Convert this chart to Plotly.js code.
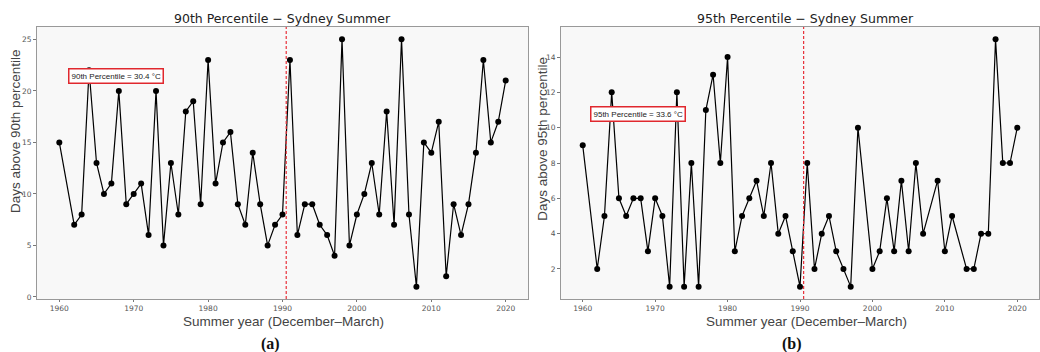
<!DOCTYPE html>
<html>
<head>
<meta charset="utf-8">
<script src="https://cdn.plot.ly/plotly-3.0.1.min.js"></script>
<style>html,body{margin:0;padding:0;background:#fff;}#chart{width:1040px;height:352px;}</style>
</head>
<body>
<div id="chart"></div>
<script>
// Panel (a): days above 90th percentile
const yearsA = [1960,1962,1963,1964,1965,1966,1967,1968,1969,1970,1971,1972,1973,1974,1975,1976,1977,1978,1979,1980,1981,1982,1983,1984,1985,1986,1987,1988,1989,1990,1991,1992,1993,1994,1995,1996,1997,1998,1999,2000,2001,2002,2003,2004,2005,2006,2007,2008,2009,2010,2011,2012,2013,2014,2015,2016,2017,2018,2019,2020];
const daysA = [15,7,8,22,13,10,11,20,9,10,11,6,20,5,13,8,18,19,9,23,11,15,16,9,7,14,9,5,7,8,23,6,9,9,7,6,4,25,5,8,10,13,8,18,7,25,8,1,15,14,17,2,9,6,9,14,23,15,17,21];
// Panel (b): days above 95th percentile
const yearsB = [1960,1962,1963,1964,1965,1966,1967,1968,1969,1970,1971,1972,1973,1974,1975,1976,1977,1978,1979,1980,1981,1982,1983,1984,1985,1986,1987,1988,1989,1990,1991,1992,1993,1994,1995,1996,1997,1998,2000,2001,2002,2003,2004,2005,2006,2007,2009,2010,2011,2013,2014,2015,2016,2017,2018,2019,2020];
const daysB = [9,2,5,12,6,5,6,6,3,6,5,1,12,1,8,1,11,13,8,14,3,5,6,7,5,8,4,5,3,1,8,2,4,5,3,2,1,10,2,3,6,3,7,3,8,4,7,3,5,2,2,4,4,15,8,8,10];

const titles = ["90th Percentile \u2212 Sydney Summer", "95th Percentile \u2212 Sydney Summer"];
const yTitles = ["Days above 90th percentile", "Days above 95th percentile"];
const xTitle = "Summer year (December\u2013March)";
const boxTexts = ["90th Percentile = 30.4 \u00b0C", "95th Percentile = 33.6 \u00b0C"];
const boxY = [21.45, 10.76];
const boxX = 1967.6;
const breakYear = 1990.5;
const panelLabels = ["(a)", "(b)"];
const xTicks = [1960,1970,1980,1990,2000,2010,2020];
const yTicksA = [0,5,10,15,20,25];
const yTicksB = [2,4,6,8,10,12,14];

const W = 1040, H = 352;
const px = v => v / W, py = v => (H - v) / H;

const lineStyle = {color: '#000', width: 1.2};
const markerStyle = {color: '#000', size: 6};

const traces = [
  {x: yearsA, y: daysA, xaxis: 'x', yaxis: 'y', mode: 'lines+markers', line: lineStyle, marker: markerStyle, hoverinfo: 'x+y'},
  {x: yearsB, y: daysB, xaxis: 'x2', yaxis: 'y2', mode: 'lines+markers', line: lineStyle, marker: markerStyle, hoverinfo: 'x+y'}
];

const tickFont = {family: 'DejaVu Sans', size: 7.5, color: '#555'};
function xAxis(domain, anchor) {
  return {domain: domain, anchor: anchor, range: [1957, 2023], tickvals: xTicks, ticks: 'outside', ticklen: 2, tickcolor: '#777',
    tickfont: tickFont, showgrid: false, zeroline: false, showline: true, mirror: true, linecolor: '#999', linewidth: 1, automargin: false};
}
function yAxis(range, tickvals, anchor) {
  return {domain: [py(299), py(27)], anchor: anchor, range: range, tickvals: tickvals, ticks: 'outside', ticklen: 3, tickcolor: '#777',
    tickfont: tickFont, showgrid: false, zeroline: false, showline: true, mirror: true, linecolor: '#999', linewidth: 1, automargin: false};
}

const titleFont = {family: 'DejaVu Sans', size: 12.5, color: '#222'};
const axTitleFont = {family: 'Liberation Sans', size: 13.5, color: '#444'};
const annotations = [];
const centersX = [282, 805];
const yTitlePos = [[15, 131], [541.7, 139]];
const labelX = [270, 792];
for (let i = 0; i < 2; i++) {
  annotations.push({xref: 'paper', yref: 'paper', x: px(centersX[i]), y: py(18), text: titles[i], showarrow: false, font: titleFont, xanchor: 'center', yanchor: 'middle'});
  annotations.push({xref: 'paper', yref: 'paper', x: px(centersX[i] + 1), y: py(312), text: xTitle, showarrow: false, font: axTitleFont, xanchor: 'center', yanchor: 'top'});
  annotations.push({xref: 'paper', yref: 'paper', x: px(yTitlePos[i][0]), y: py(yTitlePos[i][1]), text: yTitles[i], textangle: -90, showarrow: false, font: axTitleFont, xanchor: 'center', yanchor: 'middle'});
  annotations.push({xref: 'paper', yref: 'paper', x: px(labelX[i]), y: py(344), text: panelLabels[i], showarrow: false,
    font: {family: 'Liberation Serif', size: 16, color: '#111', weight: 'bold'}, xanchor: 'center', yanchor: 'middle'});
  annotations.push({xref: i === 0 ? 'x' : 'x2', yref: i === 0 ? 'y' : 'y2', x: boxX, y: boxY[i], text: boxTexts[i], showarrow: false,
    font: {family: 'Liberation Sans', size: 8, color: '#222'}, bgcolor: '#fff', bordercolor: '#e0282e', borderwidth: 1.5, borderpad: 2,
    xanchor: 'center', yanchor: 'middle'});
}

const shapes = [
  {type: 'line', xref: 'x', yref: 'y domain', x0: breakYear, x1: breakYear, y0: 0, y1: 1, line: {color: '#e8313a', width: 1.2, dash: '3px,2px'}},
  {type: 'line', xref: 'x2', yref: 'y2 domain', x0: breakYear, x1: breakYear, y0: 0, y1: 1, line: {color: '#e8313a', width: 1.2, dash: '3px,2px'}}
];

const layout = {
  width: W, height: H,
  margin: {l: 0, r: 0, t: 0, b: 0, pad: 0},
  paper_bgcolor: '#fff', plot_bgcolor: '#f8f8f8',
  showlegend: false,
  xaxis: xAxis([px(37), px(528)], 'y'),
  yaxis: yAxis([-0.2, 26.2], yTicksA, 'x'),
  xaxis2: xAxis([px(561), px(1039)], 'y2'),
  yaxis2: yAxis([0.3, 15.7], yTicksB, 'x2'),
  annotations: annotations,
  shapes: shapes
};

Plotly.newPlot('chart', traces, layout, {displayModeBar: false, staticPlot: true});
</script>
</body>
</html>
